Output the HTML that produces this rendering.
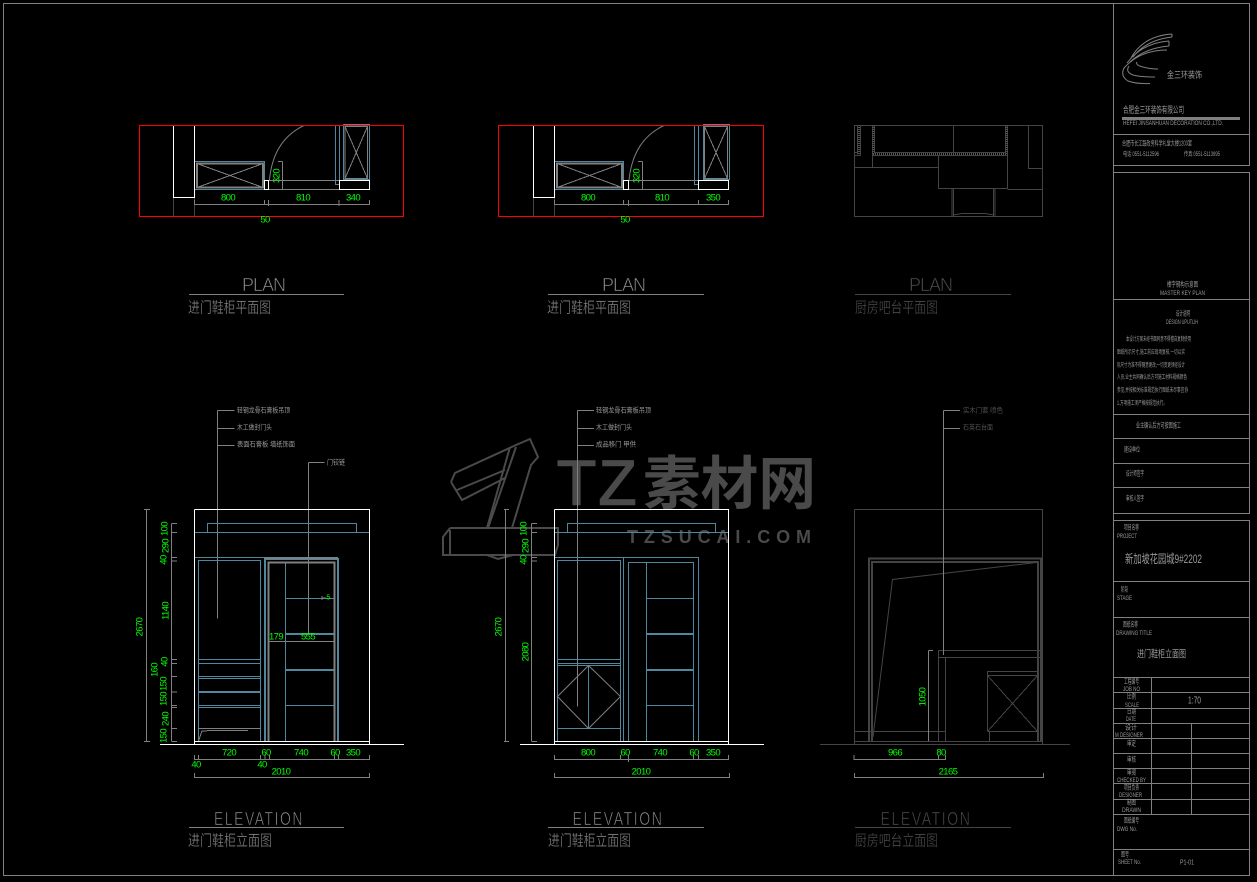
<!DOCTYPE html>
<html><head><meta charset="utf-8"><style>
html,body{margin:0;padding:0;background:#000}
svg{display:block}
.g{stroke:#808080;fill:none}
.b{stroke:#4f889e;fill:none}
.w{stroke:#fff;fill:none}
.r{stroke:#f00;fill:none}
.k{stroke:#444;fill:none}
.q{stroke:#555;fill:none;stroke-dasharray:1 1}
text{font-family:"Liberation Sans","WenQuanYi Zen Hei","Noto Sans CJK SC",sans-serif}
.d{fill:#0f0;font-size:9.5px;letter-spacing:-.6px;text-anchor:middle;dominant-baseline:central;font-family:"Liberation Sans",sans-serif}
.t{fill:#999;font-size:7px;dominant-baseline:central}
.s{font-size:6px}
.h{fill:#808080;font-size:15px;dominant-baseline:central;stroke:#000;stroke-width:.25px}
.hk{fill:#4a4a4a;font-size:15px;dominant-baseline:central;stroke:#000;stroke-width:.25px}
.p{fill:#8c8c8c;font-size:18px;text-anchor:middle;stroke:#000;stroke-width:.6px}
.pk{fill:#4e4e4e;font-size:18px;text-anchor:middle;stroke:#000;stroke-width:.6px}
.tk{fill:#505050;font-size:7px;dominant-baseline:central}
</style></head><body>
<svg width="1257" height="882" viewBox="0 0 1257 882" xmlns="http://www.w3.org/2000/svg">
<rect width="1257" height="882" fill="#000"/>

<!-- watermark -->
<g fill="none" stroke="#4a4a4a" stroke-width="2">
<path d="M451 482 L455 473 L516 445 L530 439 L538 457 L531 465 L512 528 M516 447 L488 528 M510 447 L487 528 L490 528 M451 482 L462 500 L505 478 M457 490 L505 470 M450 528 L558 528 L558 545 L555 555 L443 555 L443 537 L450 528 M450 530 L450 555 M487 555 L498 559 L513 555"/>
</g>
<g fill="#4a4a4a" font-weight="bold">
<text x="556" y="506" font-size="68" textLength="82" lengthAdjust="spacingAndGlyphs" stroke="#000" stroke-width="1.5">TZ</text>
<text x="643" y="504" font-size="58" textLength="173" lengthAdjust="spacingAndGlyphs" style="font-family:'Noto Sans CJK SC',sans-serif">素材网</text>
<text x="627" y="543" font-size="18" textLength="184" style="font-family:'Liberation Sans',sans-serif">TZSUCAI.COM</text>
</g>

<g shape-rendering="crispEdges">
<path class="g" d="M3.5 3.5H1113.5V875.5H3.5Z"/>

<!-- PLAN 1 -->
<path class="k" d="M173.5 197V216M194.5 197V216"/>
<path class="b" d="M194.5 161.5H264.5V189.5H194.5ZM335.5 125V184.5H339.5V125M343.5 124.5H369.5V179.5H343.5Z"/>
<path class="g" stroke-width="2" d="M197 163.5H263V187.5H197Z"/>
<path class="g" d="M197 163.5L263 187.5M263 163.5L197 187.5M345 126.5H367.5V178.5H345ZM345 126.5L367.5 178.5M367.5 126.5L345 178.5M269 180.5H339M269 189.5H339M282.5 161.5V189M278 161.5H282.5M194.5 204.5H369.5M194.5 200V205M264.5 200V205M268.5 200V206M339 200V206M369.5 200V205M189 294.5H344"/>
<path class="g" d="M269.5 180C272 152 284 135 304 125.5" shape-rendering="auto"/>
<path class="w" d="M173.5 125V197.5H194.5V125M264.5 180.5H268.5V189.5H264.5ZM339.5 180.5H369.5V189.5H339.5Z"/>
<path class="r" d="M139.5 125.5H403.5V216.5H139.5Z"/>

<!-- PLAN 2 -->
<path class="k" d="M533.5 197V216M554.5 197V216"/>
<path class="b" d="M554.5 161.5H623.5V189.5H554.5ZM694.5 125V184.5H698.5V125M703.5 124.5H729.5V179.5H703.5Z"/>
<path class="g" stroke-width="2" d="M557 163.5H622V187.5H557Z"/>
<path class="g" d="M557 163.5L622 187.5M622 163.5L557 187.5M704.5 126.5H727.5V178.5H704.5ZM704.5 126.5L727.5 178.5M727.5 126.5L704.5 178.5M628 180.5H698M628 189.5H698M642.5 161.5V189M638 161.5H642.5M554.5 204.5H728.5M554.5 200V205M623.5 200V205M628.5 200V206M698.5 200V205M728.5 200V205M548 294.5H704"/>
<path class="g" d="M629 180C632 152 644 135 664 125.5" shape-rendering="auto"/>
<path class="w" d="M533.5 125V197.5H554.5V125M623.5 180.5H628.5V189.5H623.5ZM698.5 180.5H728.5V189.5H698.5Z"/>
<path class="r" d="M498.5 125.5H763.5V216.5H498.5Z"/>

<!-- PLAN 3 -->
<path class="k" d="M854.5 125.5H1042.5V216.5H854.5ZM857.5 125V154.5M860.5 125V155.5H855M854.5 152.5H857.5M872.5 125V155.5M874.5 125V152.5H1005.5V125M872.5 155.5H1007.5M1007.5 125V188.5M953.5 125V152.5M872.5 155V167.5M854.5 167.5H938.5M938.5 155V188.5H1007.5M1007.5 189.5H1042.5M1028.5 125V168.5H1042.5M952 188V216M953.5 188V216M993.5 188V216M995 188V216M953 215L962 213.5H985L994 215"/>
<path class="q" stroke-width="2" d="M859 125V154M873.5 125V154M1006.5 125V154M873 154H1007"/>
<path class="k" d="M855 294.5H1011"/>

<!-- ELEVATION 1 -->
<path class="g" d="M217.5 410.5V618.5M217.5 410.5H234.5M217.5 428.5H234.5M217.5 445.5H234.5M308.5 462.5V633M308.5 462.5H324.5"/>
<path class="g" d="M146.5 509.5V741.5M144 509.5H150M144 741.5H150M171.5 523.5V741M171.5 523.5H177M171.5 532.5H177M171.5 557.5H177M171.5 561H177M171.5 659.5H177M171.5 663.5H177M171.5 676.5H177M171.5 692H177M171.5 705.5H177M171.5 707.5H177M171.5 728.5H177M171.5 741.5H177"/>
<path class="b" d="M207.5 532V523.5H356.5V532M194 532.5H369M194 557.5H338M198.5 741V560.5H260.5V741M198.5 659.5H260.5M198.5 663.5H260.5M198.5 676.5H260.5M198.5 678.5H260.5M198.5 691.5H260.5M198.5 692.5H260.5M198.5 705.5H260.5M198.5 707.5H260.5M285.5 562V741M285 598.5H334M285 705.5H334"/>
<path class="b" stroke-width="2" d="M265 741V559H338V741M285 634H334M285 670H334"/>
<path class="g" stroke-width="2" d="M268.5 741V562.5H334.5V741M265 558H338"/>
<path class="g" d="M269 641.5H334M198.5 728.5H260.5M198.5 741L202 731H206L208 730.5H248M322 598H326M322 596V600"/>
<path class="w" d="M194.5 509.5H369.5V744M194.5 509.5V744M194.5 741.5H369.5M160 744.5H404"/>
<path class="g" d="M194.5 759.5H369.5M194.5 755V760M198.5 755V760M260.5 755V760M265 755V760M269.5 755V760M334.5 755V760M338.5 755V760M369.5 755V760M194.5 777.5H369.5M194.5 773V778M369.5 773V778M189 827.5H344"/>

<!-- ELEVATION 2 -->
<path class="g" d="M577.5 410.5V706.5M577.5 410.5H594M577.5 428.5H594M577.5 445.5H594"/>
<path class="g" d="M505.5 509.5V741.5M504 509.5H509M504 741.5H509M531.5 523.5V741M531.5 523.5H537M531.5 532.5H537M531.5 557.5H537M531.5 561H537M531.5 741.5H537"/>
<path class="b" d="M567.5 532V523.5H715.5V532M554 532.5H728M554 557.5H698.5V741M623.5 557.5V741M557.5 741V560.5H620.5V741M557.5 659.5H620.5M557.5 663.5H620.5M557.5 665.5H620.5M557.5 728.5H620.5M588.5 665.5V728.5M628.5 741V562.5H693.5V741M646.5 562V741M646 598.5H693M646 705.5H693"/>
<path class="b" stroke-width="2" d="M646 634H693M646 670H693"/>
<path class="g" d="M588.5 665.5L620.5 696.5L588.5 728.5L557.5 696.5Z" shape-rendering="auto"/>
<path class="w" d="M554.5 509.5H728.5V744M554.5 509.5V744M554.5 741.5H728.5M520 744.5H764"/>
<path class="g" d="M554.5 759.5H728.5M554.5 755V760M620.5 755V760M628.5 755V762M693.5 755V760M698.5 755V760M728.5 755V760M554.5 777.5H729.5M554.5 773V778M729.5 773V778M548 827.5H704"/>

<!-- ELEVATION 3 -->
<path class="k" d="M854.5 509.5H1042.5V744M854.5 509.5V744M854.5 741.5H1042.5M820 744.5H1070M938.5 741V650.5H1042M938.5 657.5H1042M945.5 657V741M987.5 731.5V671.5H1037.5M987.5 675.5H1037.5M987.5 731.5H1037.5M987.5 675.5L1037.5 731.5M1037.5 675.5L987.5 731.5M989.5 731V741M854.5 731.5H945.5M855 827.5H1011"/>
<path class="k" stroke-width="2" d="M869 741V558.5H1041V741M872 741V562H1038V741"/>
<path class="k" d="M873 737L892.5 579.5L1036.5 562.5" shape-rendering="auto"/>
<path class="g" d="M943.5 410.5V655M943.5 410.5H960M943.5 428.5H960M928.5 650.5V741M928.5 650.5H933M854 759.5H945.5M854 755V760M938.5 755V760M945.5 755V760M854.5 777.5H1043.5M854.5 773V778M1043.5 773V778"/>

<!-- TITLE BLOCK -->
<path class="g" d="M1113.5 3.5H1249.5V165.5H1113.5M1113.5 134.5H1249.5M1113.5 172.5H1249.5V513.5H1113.5M1113.5 299.5H1249.5M1113.5 414.5H1249.5M1113.5 438.5H1249.5M1113.5 463.5H1249.5M1113.5 487.5H1249.5M1113.5 520.5H1249.5V875.5H1113.5M1113.5 581.5H1249.5M1113.5 617.5H1249.5M1113.5 677.5H1249.5M1113.5 692.5H1249.5M1113.5 708.5H1249.5M1113.5 723.5H1249.5M1113.5 738.5H1249.5M1113.5 753.5H1249.5M1113.5 768.5H1249.5M1113.5 783.5H1249.5M1113.5 799.5H1249.5M1113.5 814.5H1249.5M1113.5 849.5H1249.5M1151.5 677.5V814.5M1191.5 723.5V814.5"/>
<rect x="1122" y="117" width="118" height="3" fill="#808080"/>
</g>
<path class="g" d="M1172 34Q1143 36 1131 58M1172 37Q1146 40 1133 57M1172 34V37M1169 41Q1142 43 1127 63M1169 46Q1145 48 1130 62M1169 41V46M1167 50Q1140 50 1124 68Q1120 76 1128 81Q1136 84 1150 83.500M1129 66Q1125 72 1133 75Q1140 77 1155 77M1137 62Q1135 65 1143 67Q1150 69 1158 69"/>

<!-- green dims -->
<g>
<text class="d" x="228" y="198">800</text><text class="d" x="303" y="198">810</text><text class="d" x="353" y="198">340</text><text class="d" x="265" y="220">50</text>
<text class="d" transform="rotate(-90 277 176)" x="277" y="176">320</text>
<text class="d" x="588" y="198">800</text><text class="d" x="662" y="198">810</text><text class="d" x="713" y="198">350</text><text class="d" x="625" y="220">50</text>
<text class="d" transform="rotate(-90 637 176)" x="637" y="176">320</text>

<text class="d" transform="rotate(-90 165 529)" x="165" y="529">100</text>
<text class="d" transform="rotate(-90 166 546)" x="166" y="546">290</text>
<text class="d" transform="rotate(-90 164 560)" x="164" y="560">40</text>
<text class="d" transform="rotate(-90 166 611)" x="166" y="611">1140</text>
<text class="d" transform="rotate(-90 165 662)" x="165" y="662">40</text>
<text class="d" transform="rotate(-90 164 684)" x="164" y="684">150</text>
<text class="d" transform="rotate(-90 164 699)" x="164" y="699">150</text>
<text class="d" transform="rotate(-90 166 719)" x="166" y="719">240</text>
<text class="d" transform="rotate(-90 164 736)" x="164" y="736">150</text>
<text class="d" transform="rotate(-90 155 670)" x="155" y="670">160</text>
<text class="d" transform="rotate(-90 140 627)" x="140" y="627">2670</text>
<text class="d" x="276" y="637">179</text><text class="d" x="308" y="637">555</text><text class="d" x="328" y="598" style="font-size:7px">5</text>
<text class="d" x="229" y="753">720</text><text class="d" x="266" y="753">60</text><text class="d" x="301" y="753">740</text><text class="d" x="335" y="753">60</text><text class="d" x="353" y="753">350</text>
<text class="d" x="196" y="765">40</text><text class="d" x="262" y="765">40</text><text class="d" x="281" y="772">2010</text>

<text class="d" transform="rotate(-90 524 529)" x="524" y="529">100</text>
<text class="d" transform="rotate(-90 526 546)" x="526" y="546">290</text>
<text class="d" transform="rotate(-90 524 560)" x="524" y="560">40</text>
<text class="d" transform="rotate(-90 526 652)" x="526" y="652">2080</text>
<text class="d" transform="rotate(-90 499 627)" x="499" y="627">2670</text>
<text class="d" x="588" y="753">800</text><text class="d" x="625" y="753">60</text><text class="d" x="660" y="753">740</text><text class="d" x="694" y="753">60</text><text class="d" x="713" y="753">350</text><text class="d" x="641" y="772">2010</text>

<text class="d" transform="rotate(-90 923 697)" x="923" y="697">1050</text>
<text class="d" x="895" y="753">966</text><text class="d" x="941" y="753">80</text><text class="d" x="948" y="772">2165</text>
</g>

<!-- headings -->
<text class="p" x="264" y="291" textLength="44" lengthAdjust="spacing">PLAN</text>
<text class="p" x="624" y="291" textLength="44" lengthAdjust="spacing">PLAN</text>
<text class="pk" x="931" y="291" textLength="44" lengthAdjust="spacing">PLAN</text>
<text class="p" x="259" y="825" textLength="90" lengthAdjust="spacingAndGlyphs" style="letter-spacing:2px">ELEVATION</text>
<text class="p" x="618" y="825" textLength="91" lengthAdjust="spacingAndGlyphs" style="letter-spacing:2px">ELEVATION</text>
<text class="pk" x="926" y="825" textLength="91" lengthAdjust="spacingAndGlyphs" style="letter-spacing:2px">ELEVATION</text>
<text class="h" x="188" y="308" textLength="83" lengthAdjust="spacingAndGlyphs">进门鞋柜平面图</text>
<text class="h" x="547" y="308" textLength="84" lengthAdjust="spacingAndGlyphs">进门鞋柜平面图</text>
<text class="hk" x="855" y="308" textLength="83" lengthAdjust="spacingAndGlyphs">厨房吧台平面图</text>
<text class="h" x="188" y="841" textLength="84" lengthAdjust="spacingAndGlyphs">进门鞋柜立面图</text>
<text class="h" x="548" y="841" textLength="83" lengthAdjust="spacingAndGlyphs">进门鞋柜立面图</text>
<text class="hk" x="855" y="841" textLength="83" lengthAdjust="spacingAndGlyphs">厨房吧台立面图</text>

<!-- leader notes -->
<text class="t" x="237" y="411" textLength="53" lengthAdjust="spacingAndGlyphs">轻钢龙骨石膏板吊顶</text>
<text class="t" x="237" y="428" textLength="35" lengthAdjust="spacingAndGlyphs">木工做封门头</text>
<text class="t" x="237" y="445" textLength="58" lengthAdjust="spacingAndGlyphs">表面石膏板 墙纸饰面</text>
<text class="t" x="327" y="463" textLength="18" lengthAdjust="spacingAndGlyphs">门铰链</text>
<text class="t" x="596" y="411" textLength="55" lengthAdjust="spacingAndGlyphs">轻钢龙骨石膏板吊顶</text>
<text class="t" x="596" y="428" textLength="36" lengthAdjust="spacingAndGlyphs">木工做封门头</text>
<text class="t" x="596" y="445" textLength="40" lengthAdjust="spacingAndGlyphs">成品移门 甲供</text>
<text class="tk" x="963" y="411" textLength="40" lengthAdjust="spacingAndGlyphs">实木门套 喷色</text>
<text class="tk" x="963" y="428" textLength="30" lengthAdjust="spacingAndGlyphs">石英石台面</text>

<!-- title block text -->
<text class="t" x="1167" y="75" style="font-size:9px" textLength="35" lengthAdjust="spacingAndGlyphs">金三环装饰</text>
<text class="t" x="1123" y="110" style="font-size:9px" textLength="61" lengthAdjust="spacingAndGlyphs">合肥金三环装饰有限公司</text>
<text class="t s" x="1123" y="124" textLength="100" lengthAdjust="spacingAndGlyphs">HEFEI JINSANHUAN DECORATION CO.,LTD.</text>
<text class="t" x="1122" y="144" textLength="70" lengthAdjust="spacingAndGlyphs">合肥市长江路政务科学礼堂大楼1203室</text>
<text class="t s" x="1123" y="155" textLength="36" lengthAdjust="spacingAndGlyphs">电话:0551-5112596</text>
<text class="t s" x="1184" y="155" textLength="36" lengthAdjust="spacingAndGlyphs">传真:0551-5113995</text>
<text class="t" x="1167" y="285" textLength="31" lengthAdjust="spacingAndGlyphs">楼字钢构示意图</text>
<text class="t s" x="1160" y="294" textLength="45" lengthAdjust="spacingAndGlyphs">MASTER KEY PLAN</text>
<text class="t" x="1176" y="314" textLength="14" lengthAdjust="spacingAndGlyphs">设计说明</text>
<text class="t s" x="1166" y="323" textLength="32" lengthAdjust="spacingAndGlyphs">DESIGN UPUTLIH</text>
<text class="t s" x="1126" y="340" textLength="65" lengthAdjust="spacingAndGlyphs">本设计方案未经书面同意不得擅自复制使用</text>
<text class="t s" x="1117" y="353" textLength="68" lengthAdjust="spacingAndGlyphs">图纸所示尺寸,施工前应现场复核,一切以实</text>
<text class="t s" x="1117" y="366" textLength="68" lengthAdjust="spacingAndGlyphs">际尺寸为准不得随意更改,一切变更须经设计</text>
<text class="t s" x="1117" y="378" textLength="70" lengthAdjust="spacingAndGlyphs">人员,业主共同确认后方可施工材料规格颜色</text>
<text class="t s" x="1117" y="391" textLength="71" lengthAdjust="spacingAndGlyphs">参见,并按相关标准规范执行图纸未尽事宜协</text>
<text class="t s" x="1117" y="404" textLength="50" lengthAdjust="spacingAndGlyphs">1.万项施工须严格按规范执行。</text>
<text class="t" x="1136" y="426" textLength="45" lengthAdjust="spacingAndGlyphs">业主确认后方可按图施工</text>
<text class="t" x="1124" y="450" textLength="16" lengthAdjust="spacingAndGlyphs">建设单位</text>
<text class="t" x="1126" y="474" textLength="18" lengthAdjust="spacingAndGlyphs">设计师签字</text>
<text class="t" x="1126" y="499" textLength="18" lengthAdjust="spacingAndGlyphs">审核人签字</text>
<text class="t" x="1124" y="528" textLength="15" lengthAdjust="spacingAndGlyphs">项目名称</text>
<text class="t s" x="1117" y="537" textLength="20" lengthAdjust="spacingAndGlyphs">PROJECT</text>
<text class="t" x="1125" y="559" style="font-size:12px" textLength="77" lengthAdjust="spacingAndGlyphs">新加坡花园城9#2202</text>
<text class="t" x="1121" y="590" textLength="7" lengthAdjust="spacingAndGlyphs">阶段</text>
<text class="t s" x="1117" y="599" textLength="15" lengthAdjust="spacingAndGlyphs">STAGE</text>
<text class="t" x="1123" y="625" textLength="15" lengthAdjust="spacingAndGlyphs">图纸名称</text>
<text class="t s" x="1116" y="634" textLength="36" lengthAdjust="spacingAndGlyphs">DRAWING TITLE</text>
<text class="t" x="1137" y="655" style="font-size:10px" textLength="49" lengthAdjust="spacingAndGlyphs">进门鞋柜立面图</text>
<text class="t" x="1124" y="682" textLength="15" lengthAdjust="spacingAndGlyphs">工程编号</text>
<text class="t s" x="1123" y="690" textLength="17" lengthAdjust="spacingAndGlyphs">JOB NO</text>
<text class="t" x="1127" y="697" textLength="9" lengthAdjust="spacingAndGlyphs">比例</text>
<text class="t s" x="1125" y="706" textLength="14" lengthAdjust="spacingAndGlyphs">SCALE</text>
<text class="t" x="1127" y="712" textLength="9" lengthAdjust="spacingAndGlyphs">日期</text>
<text class="t s" x="1126" y="720" textLength="10" lengthAdjust="spacingAndGlyphs">DATE</text>
<text class="t" x="1125" y="728" textLength="12" lengthAdjust="spacingAndGlyphs">设计</text>
<text class="t s" x="1115" y="736" textLength="28" lengthAdjust="spacingAndGlyphs">M DESIGNER</text>
<text class="t" x="1127" y="744" textLength="9" lengthAdjust="spacingAndGlyphs">审定</text>
<text class="t" x="1127" y="760" textLength="9" lengthAdjust="spacingAndGlyphs">审核</text>
<text class="t" x="1127" y="773" textLength="9" lengthAdjust="spacingAndGlyphs">审阅</text>
<text class="t s" x="1117" y="781" textLength="29" lengthAdjust="spacingAndGlyphs">CHECKED BY</text>
<text class="t" x="1124" y="788" textLength="15" lengthAdjust="spacingAndGlyphs">项目负责</text>
<text class="t s" x="1119" y="796" textLength="23" lengthAdjust="spacingAndGlyphs">DESIGNER</text>
<text class="t" x="1127" y="803" textLength="9" lengthAdjust="spacingAndGlyphs">制图</text>
<text class="t s" x="1122" y="811" textLength="19" lengthAdjust="spacingAndGlyphs">DRAWN</text>
<text class="t" x="1124" y="821" textLength="15" lengthAdjust="spacingAndGlyphs">图纸编号</text>
<text class="t s" x="1117" y="830" textLength="20" lengthAdjust="spacingAndGlyphs">DWG No.</text>
<text class="t" x="1121" y="855" textLength="8" lengthAdjust="spacingAndGlyphs">图号</text>
<text class="t s" x="1118" y="863" textLength="23" lengthAdjust="spacingAndGlyphs">SHEET No.</text>
<text class="t" x="1180" y="863" textLength="14" lengthAdjust="spacingAndGlyphs">P1-01</text>
<text class="t" x="1188" y="701" style="font-size:10px" textLength="13" lengthAdjust="spacingAndGlyphs">1:70</text>
</svg>
</body></html>
